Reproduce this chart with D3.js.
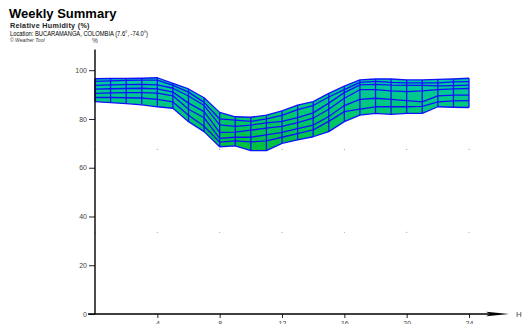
<!DOCTYPE html>
<html>
<head>
<meta charset="utf-8">
<title>Weekly Summary</title>
<script src="https://d3js.org/d3.v7.min.js"></script>
<style>
  body { margin: 0; background: #fff; }
  svg { font-family: "Liberation Sans", Arial, sans-serif; }
  .tick text { fill: #444; font-size: 7px; }
</style>
</head>
<body>
<svg width="524" height="324"></svg>
<script>
var hours = d3.range(0, 25);

// one humidity series per day (%)
var day1 = [96.5, 96.6, 96.6, 96.7, 96.9, 94.6, 92.3, 88.7, 82.7, 80.9, 80.7, 81.6, 83.3, 85.7, 87.1, 90.5, 93.5, 96.0, 96.4, 96.4, 96.0, 96.0, 96.2, 96.4, 96.7];
var day2 = [95.4, 95.6, 95.8, 95.9, 95.9, 93.8, 91.0, 86.8, 80.0, 79.5, 79.0, 80.0, 81.5, 83.8, 85.5, 89.0, 92.0, 95.0, 95.4, 95.0, 94.8, 94.8, 94.8, 95.2, 95.3];
var day3 = [93.8, 94.0, 94.1, 94.2, 94.0, 92.6, 89.4, 85.5, 77.6, 77.0, 77.5, 78.4, 79.0, 80.5, 82.5, 86.5, 90.8, 94.0, 94.2, 93.9, 93.8, 93.8, 93.6, 93.7, 93.9];
var day4 = [92.2, 92.4, 92.5, 92.6, 92.3, 91.0, 86.5, 83.0, 74.5, 74.6, 75.4, 76.2, 77.0, 78.5, 80.3, 84.0, 88.5, 92.0, 92.0, 91.5, 91.2, 91.5, 92.0, 92.3, 92.5];
var day5 = [90.5, 90.7, 90.8, 90.8, 90.6, 89.5, 84.0, 80.5, 72.0, 72.5, 72.5, 73.5, 74.5, 76.0, 77.5, 81.0, 85.5, 88.0, 88.5, 88.0, 87.5, 87.0, 89.5, 89.8, 89.8];
var day6 = [88.8, 88.8, 88.7, 88.6, 88.0, 87.0, 81.5, 77.0, 70.5, 71.0, 70.6, 71.0, 72.5, 74.0, 75.5, 79.0, 83.0, 84.0, 85.0, 85.0, 85.0, 85.2, 87.0, 87.4, 87.5];
var day7 = [87.1, 86.7, 86.3, 85.8, 85.0, 84.4, 78.9, 74.8, 68.6, 69.0, 67.0, 67.0, 70.0, 71.4, 72.7, 74.8, 78.9, 81.6, 82.3, 81.9, 82.3, 82.3, 85.0, 84.8, 84.7];
var days = [day1, day2, day3, day4, day5, day6, day7];

var xTicks = [4, 8, 12, 16, 20, 24];
var yTicks = [0, 20, 40, 60, 80, 100];
var dotHours = [0, 4, 8, 12, 16, 20, 24];
var dotValues = [33.5, 67.5];

var svg = d3.select("svg");

var x = d3.scaleLinear().domain([0, 24]).range([95, 469]);
var y = d3.scaleLinear().domain([0, 100]).range([314, 70.2]);

// titles
svg.append("text").attr("x", 9).attr("y", 18)
  .style("font-size", "13px").style("font-weight", "bold").text("Weekly Summary");
svg.append("text").attr("x", 10).attr("y", 27.5)
  .style("font-size", "7.2px").style("font-weight", "bold").style("letter-spacing", "0.3px")
  .attr("fill", "#222").text("Relative Humidity (%)");
svg.append("text").attr("x", 10).attr("y", 35.5)
  .style("font-family", "'Liberation Sans Narrow', 'Liberation Sans', sans-serif")
  .style("font-size", "6.6px").attr("textLength", 138).attr("lengthAdjust", "spacingAndGlyphs")
  .text("Location: BUCARAMANGA, COLOMBIA (7.6°, -74.0°)");
svg.append("text").attr("x", 10).attr("y", 41.5)
  .style("font-size", "5px").style("font-style", "italic").attr("fill", "#333")
  .text("© Weather Tool");

// grid dots
var dots = [];
dotValues.forEach(function(v) { dotHours.forEach(function(h) { dots.push([h, v]); }); });
svg.append("g").selectAll("rect").data(dots).enter().append("rect")
  .attr("x", function(d) { return x(d[0]) - 0.5; })
  .attr("y", function(d) { return y(d[1]) - 0.5; })
  .attr("width", 1).attr("height", 1).attr("fill", "#999");

// fill gradient by value
var defs = svg.append("defs");
var grad = defs.append("linearGradient").attr("id", "band")
  .attr("gradientUnits", "userSpaceOnUse")
  .attr("x1", 0).attr("x2", 0).attr("y1", y(96)).attr("y2", y(68));
grad.append("stop").attr("offset", "0%").attr("stop-color", "#00c8a4");
grad.append("stop").attr("offset", "45%").attr("stop-color", "#00c878");
grad.append("stop").attr("offset", "100%").attr("stop-color", "#00c03c");

var hi = hours.map(function(h, i) { return d3.max(days, function(d) { return d[i]; }); });
var lo = hours.map(function(h, i) { return d3.min(days, function(d) { return d[i]; }); });

var area = d3.area()
  .x(function(d, i) { return x(hours[i]); })
  .y0(function(d, i) { return y(lo[i]); })
  .y1(function(d, i) { return y(hi[i]); });

svg.append("path").datum(hours).attr("d", area).attr("fill", "url(#band)");

var line = d3.line()
  .x(function(d, i) { return x(hours[i]); })
  .y(function(d) { return y(d); });

svg.append("g").selectAll("line").data(hours).enter().append("line")
  .attr("x1", function(d) { return x(d); }).attr("x2", function(d) { return x(d); })
  .attr("y1", function(d, i) { return y(lo[i]); })
  .attr("y2", function(d, i) { return y(hi[i]); })
  .attr("stroke", "#1010ff").attr("stroke-width", 1.3);

svg.append("g").selectAll("path").data(days).enter().append("path")
  .attr("d", line).attr("fill", "none")
  .attr("stroke", "#1010ff").attr("stroke-width", 1.3).attr("stroke-linejoin", "round");

// axes
var yAxis = svg.append("g").attr("transform", "translate(95,0)")
  .call(d3.axisLeft(y).tickValues(yTicks).tickSize(6).tickPadding(2));
yAxis.select(".domain").remove();
yAxis.selectAll(".tick line").attr("stroke", "#222");
svg.append("line").attr("x1", 95).attr("x2", 95).attr("y1", y(0)).attr("y2", y(108.5))
  .attr("stroke", "#000").attr("stroke-width", 1.4);

var xAxis = svg.append("g").attr("transform", "translate(0,314)")
  .call(d3.axisBottom(x).tickValues(xTicks).tickSize(4).tickPadding(3));
xAxis.select(".domain").remove();
xAxis.selectAll(".tick line").attr("stroke", "#222");
svg.append("line").attr("x1", 88).attr("x2", 490).attr("y1", 314).attr("y2", 314)
  .attr("stroke", "#000").attr("stroke-width", 1.4);
svg.append("path").attr("d", "M486,311.8 L509,314 L486,316.2 L490,314 Z").attr("fill", "#000");

svg.append("text").attr("x", 516).attr("y", 317).style("font-size", "8px").attr("fill", "#444").text("H");
svg.append("text").attr("x", 95).attr("y", 43).attr("text-anchor", "middle")
  .style("font-size", "6.5px").attr("fill", "#444").text("%");
</script>
</body>
</html>
